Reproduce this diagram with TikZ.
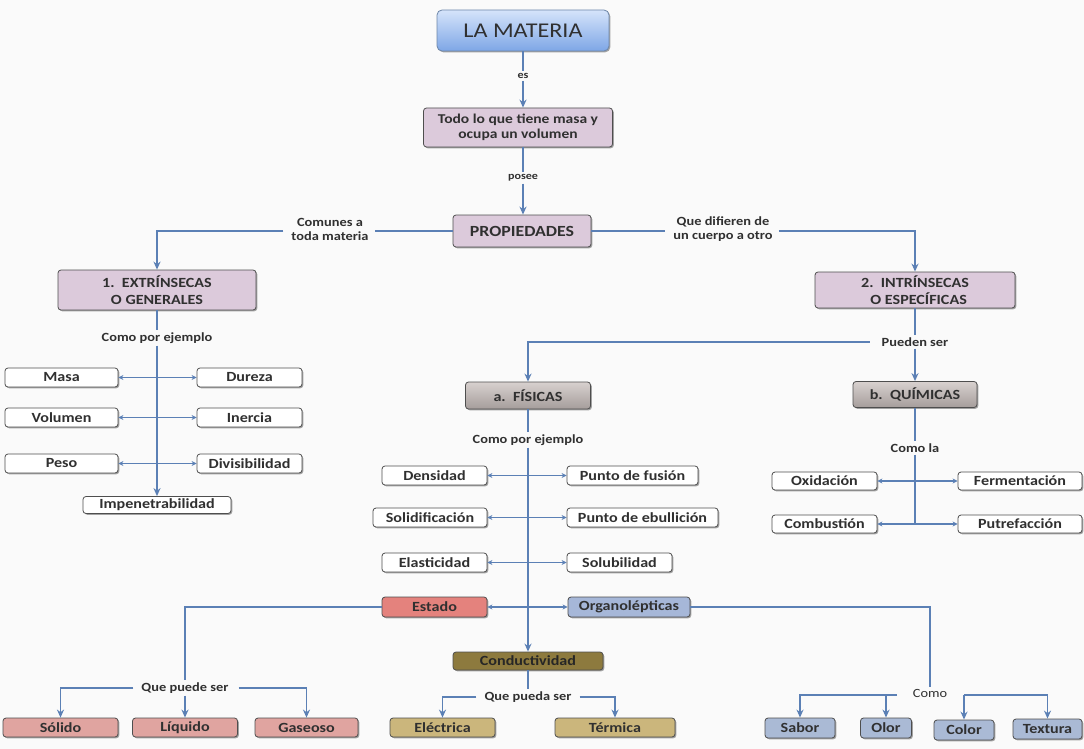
\documentclass[tikz,border=0pt]{standalone}
\usepackage{fontspec}
\setmainfont{Carlito}[FakeStretch=1.15]
\usetikzlibrary{arrows.meta,shadows,calc}
\definecolor{tx}{HTML}{303030}
\definecolor{bd}{HTML}{4E4E4E}
\definecolor{ln}{HTML}{5B80B5}
\definecolor{bgc}{HTML}{FAFAFA}
\definecolor{purp}{HTML}{DCCADB}
\definecolor{estc}{HTML}{E4827D}
\definecolor{estk}{HTML}{E0A4A0}
\definecolor{orgc}{HTML}{A6B7D8}
\definecolor{orgk}{HTML}{AABAD5}
\definecolor{conc}{HTML}{8D7A3E}
\definecolor{conk}{HTML}{CBB67C}
\definecolor{gtop}{HTML}{D8D1CF}
\definecolor{gbot}{HTML}{A59D9B}
\definecolor{titt}{HTML}{D5E4FA}
\definecolor{titb}{HTML}{7EA6E6}
\definecolor{titd}{HTML}{6D86A8}
\tikzset{
  box/.style={draw=bd, line width=0.8pt, rounded corners=3pt, align=center, inner sep=1pt,
    font=\bfseries\fontsize{14}{16}\selectfont, text=tx,
    drop shadow={shadow xshift=1.3pt, shadow yshift=-1.3pt, opacity=0.35, fill=black}},
  wbox/.style={box, fill=white, minimum height=19pt},
  pbox/.style={box, fill=purp, font=\bfseries\fontsize{14}{16.5}\selectfont},
  gbox/.style={box, top color=gtop, bottom color=gbot, font=\bfseries\fontsize{14}{16}\selectfont},
  lbl/.style={font=\bfseries\fontsize{12.5}{14}\selectfont, text=tx, inner sep=2pt, align=center},
  conn/.style={draw=ln, line width=1.7pt},
  arr/.style={conn, -{Stealth[length=8pt,width=7pt]}},
  dbl/.style={draw=ln, line width=1.8pt, {Stealth[length=5pt,width=5pt]}-{Stealth[length=5pt,width=5pt]}}
}
\begin{document}
\begin{tikzpicture}[x=1pt,y=-1pt]
\fill[bgc] (0,0) rectangle (1084,749);
\useasboundingbox (0,0) rectangle (1084,749);

% top chain
\node[box, top color=titt, bottom color=titb, draw=titd, rounded corners=5pt,
  minimum width=172pt, minimum height=41pt, font=\fontsize{21}{23}\selectfont] (mat) at (523,30.5) {LA MATERIA};
\node[lbl, font=\bfseries\fontsize{10.5}{11}\selectfont] (es) at (523,76) {es};
\node[pbox, minimum width=189pt, minimum height=39pt, font=\bfseries\fontsize{13.5}{15.5}\selectfont] (todo) at (518,127.5) {Todo lo que tiene masa y\\ocupa un volumen};
\node[lbl, font=\bfseries\fontsize{10.5}{11}\selectfont] (posee) at (523,178) {posee};
\node[pbox, minimum width=138pt, minimum height=32pt, font=\bfseries\fontsize{15.5}{18}\selectfont] (prop) at (522,231) {PROPIEDADES};

\draw[conn] (mat.south) -- (es.north);
\draw[arr] (es.south) -- (es.south |- todo.north);
\draw[conn] (posee.north |- todo.south) -- (posee.north);
\draw[arr] (posee.south) -- (posee.south |- prop.north);

% two branches
\node[lbl] (com) at (330,229) {Comunes a\\toda materia};
\node[lbl] (dif) at (723,229) {Que difieren de\\un cuerpo a otro};
\node[pbox, minimum width=198pt, minimum height=40pt] (ext) at (157,290) {1.\ \ EXTRÍNSECAS\\O GENERALES};
\node[pbox, minimum width=200pt, minimum height=36pt] (int) at (915,290) {2.\ \ INTRÍNSECAS\\\ \ O ESPECÍFICAS};
\coordinate (cw) at ([xshift=-6pt]com.west |- prop.west);
\coordinate (de) at ([xshift=4pt]dif.east |- prop.east);
\draw[conn] (prop.west) -- ([xshift=4pt]com.east |- prop.west);
\draw[arr] (cw) -| (ext.north);
\draw[conn] (prop.east) -- ([xshift=-6pt]dif.west |- prop.east);
\draw[arr] (de) -| (int.north);

% extrinsecas
\node[lbl] (cpe1) at (157,338) {Como por ejemplo};
\node[wbox, minimum width=113pt] (masa) at (61.5,377.5) {Masa};
\node[wbox, minimum width=105pt] (dureza) at (249.5,377.5) {Dureza};
\node[wbox, minimum width=113pt] (volumen) at (61.5,417.5) {Volumen};
\node[wbox, minimum width=105pt] (inercia) at (249.5,417.5) {Inercia};
\node[wbox, minimum width=113pt] (peso) at (61.5,463.5) {Peso};
\node[wbox, minimum width=105pt] (divis) at (249.5,463.5) {Divisibilidad};
\node[wbox, minimum width=148pt, minimum height=17pt] (imp) at (157,505) {Impenetrabilidad};
\draw[conn] (ext.south) -- (cpe1.north);
\draw[arr] (cpe1.south) -- (imp.north);
\draw[dbl] (masa.east) -- (dureza.west);
\draw[dbl] (volumen.east) -- (inercia.west);
\draw[dbl] (peso.east) -- (divis.west);

% intrinsecas
\node[lbl] (pueden) at (915,342) {Pueden ser};
\node[gbox, minimum width=125pt, minimum height=27pt] (fis) at (528,395.5) {a.\ \ FÍSICAS};
\node[gbox, minimum width=124pt, minimum height=26pt] (qui) at (915,394.5) {b.\ \ QUÍMICAS};
\draw[conn] (int.south) -- (pueden.north);
\draw[arr] (pueden.south) -- (qui.north);
\draw[arr] ([xshift=-10pt]pueden.west) -| (fis.north);

% quimicas
\node[lbl] (comola) at (915,448) {Como la};
\node[wbox, minimum width=105pt, minimum height=18pt] (oxid) at (824.5,481) {Oxidación};
\node[wbox, minimum width=124pt, minimum height=18pt] (ferm) at (1020,481) {Fermentación};
\node[wbox, minimum width=105pt, minimum height=18pt] (combu) at (824.5,524) {Combustión};
\node[wbox, minimum width=124pt, minimum height=18pt] (putre) at (1020,524) {Putrefacción};
\draw[conn] (qui.south) -- (comola.north);
\draw[conn] (comola.south) -- (comola.south |- combu.east);
\draw[dbl] (oxid.east) -- (ferm.west);
\draw[dbl] (combu.east) -- (putre.west);

% fisicas
\node[lbl] (cpe2) at (528,440) {Como por ejemplo};
\node[wbox, minimum width=105pt] (dens) at (434.5,475.5) {Densidad};
\node[wbox, minimum width=131pt] (pfus) at (632.5,475.5) {Punto de fusión};
\node[wbox, minimum width=114pt] (solid) at (430,517.5) {Solidificación};
\node[wbox, minimum width=151pt] (pebu) at (642.5,517.5) {Punto de ebullición};
\node[wbox, minimum width=105pt] (elas) at (434.5,562.5) {Elasticidad};
\node[wbox, minimum width=105pt] (solu) at (619.5,562.5) {Solubilidad};
\node[box, fill=estc, minimum width=105pt, minimum height=20pt] (estado) at (434.5,607) {Estado};
\node[box, fill=orgc, minimum width=122pt, minimum height=20pt] (organo) at (629,607) {Organolépticas};
\node[box, fill=conc, minimum width=150pt, minimum height=18pt, text=black!85] (cond) at (528,661) {Conductividad};
\draw[conn] (fis.south) -- (cpe2.north);
\draw[arr] (cpe2.south) -- (cond.north);
\draw[dbl] (dens.east) -- (pfus.west);
\draw[dbl] (solid.east) -- (pebu.west);
\draw[dbl] (elas.east) -- (solu.west);
\draw[dbl] (estado.east) -- (organo.west);

% estado
\node[lbl] (qps1) at (185,688) {Que puede ser};
\node[box, fill=estk, minimum width=115pt, minimum height=19pt] (solido) at (60.5,727.5) {Sólido};
\node[box, fill=estk, minimum width=105pt, minimum height=19pt] (liquido) at (185,727.5) {Líquido};
\node[box, fill=estk, minimum width=103pt, minimum height=19pt] (gaseoso) at (306.5,727.5) {Gaseoso};
\draw[conn] (estado.west) -| (qps1.north);
\draw[arr] ([xshift=-6pt]qps1.west) -| (solido.north);
\draw[arr] (qps1.south) -- (liquido.north);
\draw[arr] ([xshift=8pt]qps1.east) -| (gaseoso.north);

% conductividad
\node[lbl] (qps2) at (528,697) {Que pueda ser};
\node[box, fill=conk, minimum width=105pt, minimum height=19pt] (elec) at (442.5,727.5) {Eléctrica};
\node[box, fill=conk, minimum width=120pt, minimum height=19pt] (term) at (615,727.5) {Térmica};
\draw[conn] (cond.south) -- (qps2.north);
\draw[arr] ([xshift=-6pt]qps2.west) -| (elec.north);
\draw[arr] ([xshift=6pt]qps2.east) -| (term.north);

% organolepticas
\node[lbl, font=\fontsize{12.5}{14}\selectfont] (como) at (930,693) {Como};
\node[box, fill=orgk, minimum width=70pt, minimum height=20pt] (sabor) at (800,728) {Sabor};
\node[box, fill=orgk, minimum width=51pt, minimum height=20pt] (olor) at (886,728) {Olor};
\node[box, fill=orgk, minimum width=60pt, minimum height=20pt] (color) at (964,730) {Color};
\node[box, fill=orgk, minimum width=69pt, minimum height=20pt] (textura) at (1047.5,729) {Textura};
\coordinate (cl) at (897,695);
\coordinate (cr) at (964,695);
\draw[conn] (organo.east) -| (como.north);
\draw[arr] (cl) -| (sabor.north);
\draw[arr] (cl -| olor.north) -- (olor.north);
\draw[arr] (cr) -| (textura.north);
\draw[arr] (cr) -- (color.north);
\end{tikzpicture}
\end{document}
